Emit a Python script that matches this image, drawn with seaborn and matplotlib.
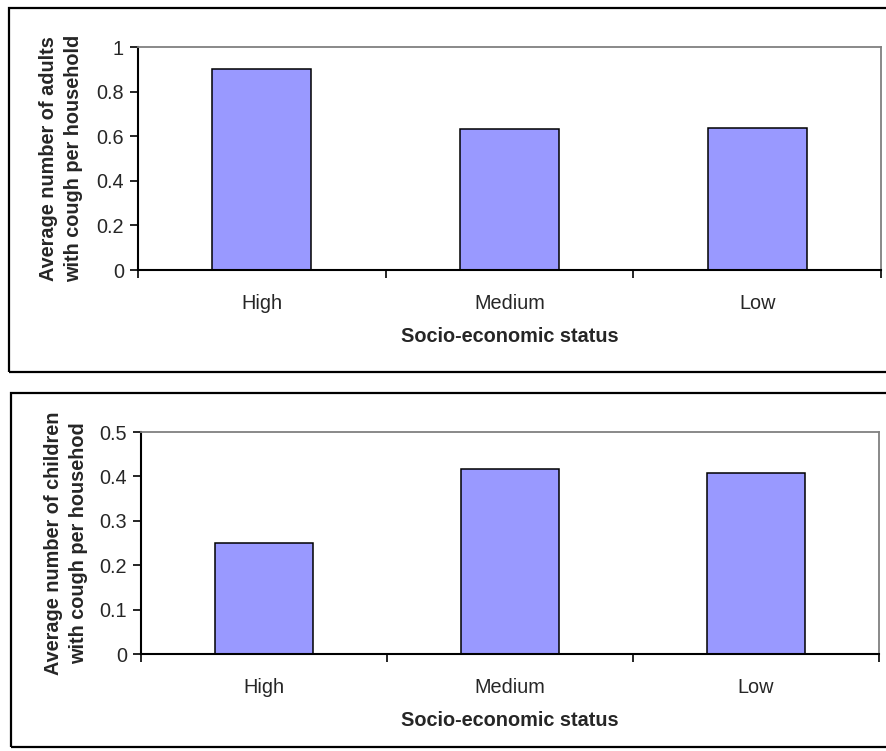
import matplotlib
matplotlib.use("Agg")
import matplotlib.pyplot as plt
from matplotlib.patches import Rectangle
from matplotlib.ticker import FixedLocator, MultipleLocator
import seaborn as sns
import pandas as pd

status = ["High", "Medium", "Low"]
adults_cough = [0.90, 0.632, 0.635]
children_cough = [0.251, 0.417, 0.408]

adults_ticks = [0, 0.2, 0.4, 0.6, 0.8, 1]
children_ticks = [0, 0.1, 0.2, 0.3, 0.4, 0.5]

sns.set_theme(style="white")
plt.rcParams["font.family"] = ["Liberation Sans", "DejaVu Sans"]

W, H = 887, 751
FS = 14.3
fig = plt.figure(figsize=(W / 100, H / 100), dpi=100)
fig.patch.set_facecolor("white")


def px_box(left, top, right, bottom):
    return [left / W, 1 - bottom / H, (right - left) / W, (bottom - top) / H]


# outer frames around each chart
for (l, t, b) in [(9, 8, 372), (11, 393, 747)]:
    fig.patches.append(Rectangle((l / W, 1 - b / H), (1000 - l) / W, (b - t) / H,
                                 transform=fig.transFigure, fill=False,
                                 edgecolor="black", linewidth=1.6))


def draw_panel(box, values, ticks, ymax, ylabel, ylab_x):
    ax = fig.add_axes(box)
    df = pd.DataFrame({"status": status, "value": values})
    sns.barplot(data=df, x="status", y="value", ax=ax, color="#9999FF",
                saturation=1, width=0.4, edgecolor="black", linewidth=1.1)
    ax.set_xlim(-0.5, len(status) - 0.5)
    ax.set_ylim(0, ymax)
    ax.yaxis.set_major_locator(FixedLocator(ticks))
    ax.set_yticklabels([f"{t:g}" for t in ticks], fontsize=FS)
    ax.xaxis.set_minor_locator(MultipleLocator(1, offset=0.5))
    ax.tick_params(axis="x", which="major", length=0, pad=17.5, labelsize=FS)
    ax.tick_params(axis="x", which="minor", bottom=True, direction="out",
                   length=6, width=1.2, color="black")
    ax.tick_params(axis="y", left=True, direction="out", length=6, width=1.2,
                   color="black", pad=4)
    for side in ["top", "right"]:
        ax.spines[side].set_color("#808080")
        ax.spines[side].set_linewidth(1.3)
    for side in ["left", "bottom"]:
        ax.spines[side].set_color("black")
        ax.spines[side].set_linewidth(1.5)
    ax.set_xlabel("Socio-economic status", fontsize=FS, fontweight="bold")
    ax.xaxis.set_label_coords(0.5, -0.298)
    ax.xaxis.label.set_va("center")
    ax.set_ylabel(ylabel, fontsize=FS, fontweight="bold", linespacing=1.4)
    ax.yaxis.set_label_coords(ylab_x, 0.5)
    ax.yaxis.label.set_va("center")
    return ax


draw_panel(px_box(138, 47, 881, 270), adults_cough, adults_ticks, 1.0,
           "Average number of adults\nwith cough per household", -0.104)
draw_panel(px_box(141, 432, 879, 654), children_cough, children_ticks, 0.5,
           "Average number of children\nwith cough per househod", -0.101)

fig.savefig("out.png", dpi=100, facecolor="white")
